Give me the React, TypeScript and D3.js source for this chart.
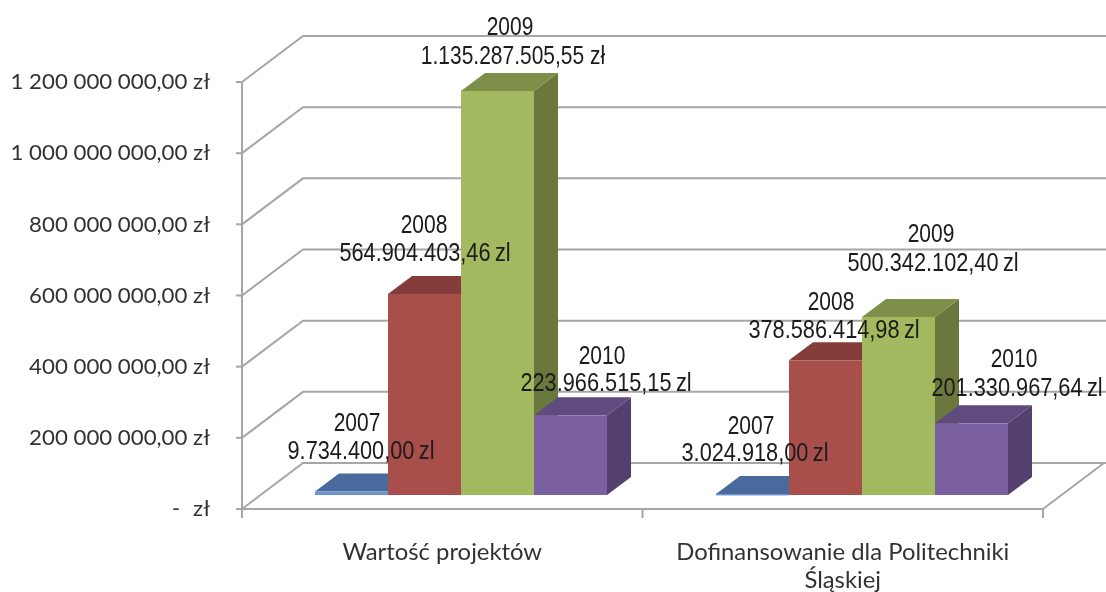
import React from 'react';
import * as d3 from 'd3';

const categories = ['Wartość projektów', 'Dofinansowanie dla Politechniki\nŚląskiej'];
const years = ['2007', '2008', '2009', '2010'];
const projectValues = [9734400, 564904403.46, 1135287505.55, 223966515.15];
const fundingValues = [3024918, 378586414.98, 500342102.4, 201330967.64];
const projectLabels = ['9.734.400,00\u2009zl', '564.904.403,46\u2009zl', '1.135.287.505,55 zł', '223.966.515,15\u2009zl'];
const fundingLabels = ['3.024.918,00\u2009zl', '378.586.414,98\u2009zl', '500.342.102,40\u2009zl', '201.330.967,64\u2009zl'];
const yTicks = [0, 200e6, 400e6, 600e6, 800e6, 1000e6, 1200e6];
const yTickLabels = ['zł', '200 000 000,00 zł', '400 000 000,00 zł', '600 000 000,00 zł', '800 000 000,00 zł', '1 000 000 000,00 zł', '1 200 000 000,00 zł'];

const colors = [
  { front: '#6C93CC', top: '#4A6A9C', side: '#37507A' },
  { front: '#A84F4C', top: '#853C3B', side: '#733331' },
  { front: '#A3B95E', top: '#7E8F48', side: '#6A783D' },
  { front: '#7A61A0', top: '#5F4B7E', side: '#52406E' },
];

// label centres: [year x, year y, value x, value y], per category and year
const labelPos = [
  [[357, 422, 361, 450], [424, 224, 425, 252], [510, 26, 513, 55], [602, 355, 606, 382]],
  [[751, 425, 755, 452], [831, 301, 834, 329], [931, 233, 933, 262], [1014, 358, 1017, 387]],
];

const y = d3.scaleLinear().domain([0, 1200e6]).range([509, 82]);
const x0 = d3.scaleBand<number>().domain([0, 1]).range([242, 1043]);
const wall = { dx: 61, dy: -46 };
const depth = { dx: 24, dy: -18 };
const barBaseShift = -14;
const barW = 73;
const GRID = '#A6A6A6';
const AXIS_TEXT = '#333';

export default function App() {
  const series = [projectValues, fundingValues];
  const labels = [projectLabels, fundingLabels];
  return (
    <svg width={1106} height={592} style={{ position: 'absolute', left: 0, top: 0, background: '#fff' }}>
      <defs>
        <filter id="soft" x="-5%" y="-5%" width="110%" height="110%">
          <feGaussianBlur stdDeviation="0.55" />
        </filter>
      </defs>
      <g filter="url(#soft)">
        {yTicks.map((t) => (
          <g key={t} stroke={GRID} strokeWidth={2} fill="none">
            <polyline points={`${242},${y(t)} ${242 + wall.dx},${y(t) + wall.dy} ${1106},${y(t) + wall.dy}`} />
            <line x1={236} x2={242} y1={y(t)} y2={y(t)} />
          </g>
        ))}
        <g stroke={GRID} strokeWidth={2} fill="none">
          <line x1={242} x2={242} y1={y(1200e6)} y2={518} />
          <line x1={242} x2={1043} y1={509} y2={509} />
          <line x1={1043} x2={1043 + wall.dx} y1={509} y2={509 + wall.dy} />
          {[242, 242 + x0.bandwidth(), 1043].map((v) => (
            <line key={v} x1={v} x2={v} y1={509} y2={518} />
          ))}
        </g>
        {series.map((vals, c) => {
          const start = c === 0 ? 315 : 716;
          return vals.map((v, i) => {
            const left = start + i * barW;
            const right = left + barW;
            const base = 509 + barBaseShift;
            const top = y(v) + barBaseShift;
            const col = colors[i];
            return (
              <g key={`${c}-${i}`}>
                <path fill={col.side} d={`M${right},${top}L${right + depth.dx},${top + depth.dy}L${right + depth.dx},${base + depth.dy}L${right},${base}Z`} />
                <path fill={col.top} d={`M${left},${top}L${left + depth.dx},${top + depth.dy}L${right + depth.dx},${top + depth.dy}L${right},${top}Z`} />
                <rect x={left} y={top} width={barW} height={Math.max(base - top, 1.5)} fill={col.front} />
              </g>
            );
          });
        })}
        <g fontFamily="Lato, 'Open Sans', sans-serif" fontSize={21.5} fill={AXIS_TEXT}>
          {yTicks.map((t, i) => (
            <text key={t} transform={`translate(210,${y(t)}) scale(1.035,1)`} dy="0.34em" textAnchor="end">{yTickLabels[i]}</text>
          ))}
          <text x={172} y={y(0)} dy="0.34em">-</text>
          {categories.map((c, i) =>
            c.split('\n').map((line, j) => (
              <text key={line} fontSize={22.5} transform={`translate(${x0(i)! + x0.bandwidth() / 2},${552 + j * 28}) scale(1.06,1)`} dy="0.34em" textAnchor="middle">{line}</text>
            )),
          )}
        </g>
        <g fontFamily="'Liberation Sans', Arial, sans-serif" fontSize={25} fill="#1a1a1a">
          {labels.map((ls, c) =>
            ls.map((l, i) => {
              const p = labelPos[c][i];
              const sx = l.includes('\u2009') ? 0.87 : 0.84;
              return (
                <g key={l} textAnchor="middle">
                  <text transform={`translate(${p[0]},${p[1]}) scale(0.84,1)`} dy="0.35em">{years[i]}</text>
                  <text transform={`translate(${p[2]},${p[3]}) scale(${sx},1)`} dy="0.35em">{l}</text>
                </g>
              );
            }),
          )}
        </g>
      </g>
    </svg>
  );
}
